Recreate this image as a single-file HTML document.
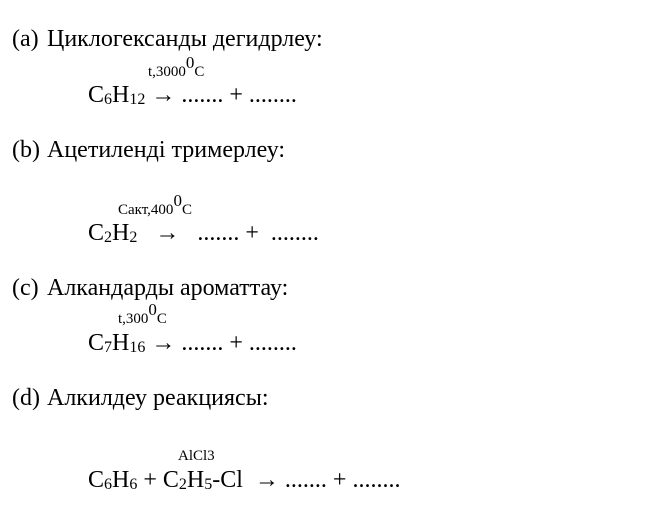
<!DOCTYPE html>
<html><head><meta charset="utf-8"><style>
body{margin:0;width:667px;height:511px;background:#fff;position:relative;overflow:hidden;font-family:"Liberation Serif",serif;color:#000}
.t{position:absolute;white-space:pre;line-height:1;font-size:24px}
.s{position:absolute;white-space:pre;line-height:1;font-size:15px}
sub{font-size:16px;vertical-align:-2px;line-height:0}
sup{font-size:17px;vertical-align:8px;line-height:0}
</style></head><body>
<div class="t" style="left:12px;top:27px">(a)</div><div class="t" style="left:47px;top:27px">Циклогександы дегидрлеу:</div>
<div class="s" style="left:148px;top:63px">t,3000<sup>0</sup>C</div>
<div class="t" style="left:88px;top:83px">C<sub>6</sub>H<sub>12</sub> → ....... + ........</div>

<div class="t" style="left:12px;top:138px">(b)</div><div class="t" style="left:47px;top:138px">Ацетиленді тримерлеу:</div>
<div class="s" style="left:118px;top:201px">Сакт,400<sup>0</sup>C</div>
<div class="t" style="left:88px;top:221px">C<sub>2</sub>H<sub>2</sub>   →   ....... +  ........</div>

<div class="t" style="left:12px;top:276px">(c)</div><div class="t" style="left:47px;top:276px">Алкандарды ароматтау:</div>
<div class="s" style="left:118px;top:310px">t,300<sup>0</sup>C</div>
<div class="t" style="left:88px;top:331px">C<sub>7</sub>H<sub>16</sub> → ....... + ........</div>

<div class="t" style="left:12px;top:386px">(d)</div><div class="t" style="left:47px;top:386px">Алкилдеу реакциясы:</div>
<div class="s" style="left:178px;top:449px">AlCl3</div>
<div class="t" style="left:88px;top:468px">C<sub>6</sub>H<sub>6</sub> + C<sub>2</sub>H<sub>5</sub>-Cl  → ....... + ........</div>
</body></html>
